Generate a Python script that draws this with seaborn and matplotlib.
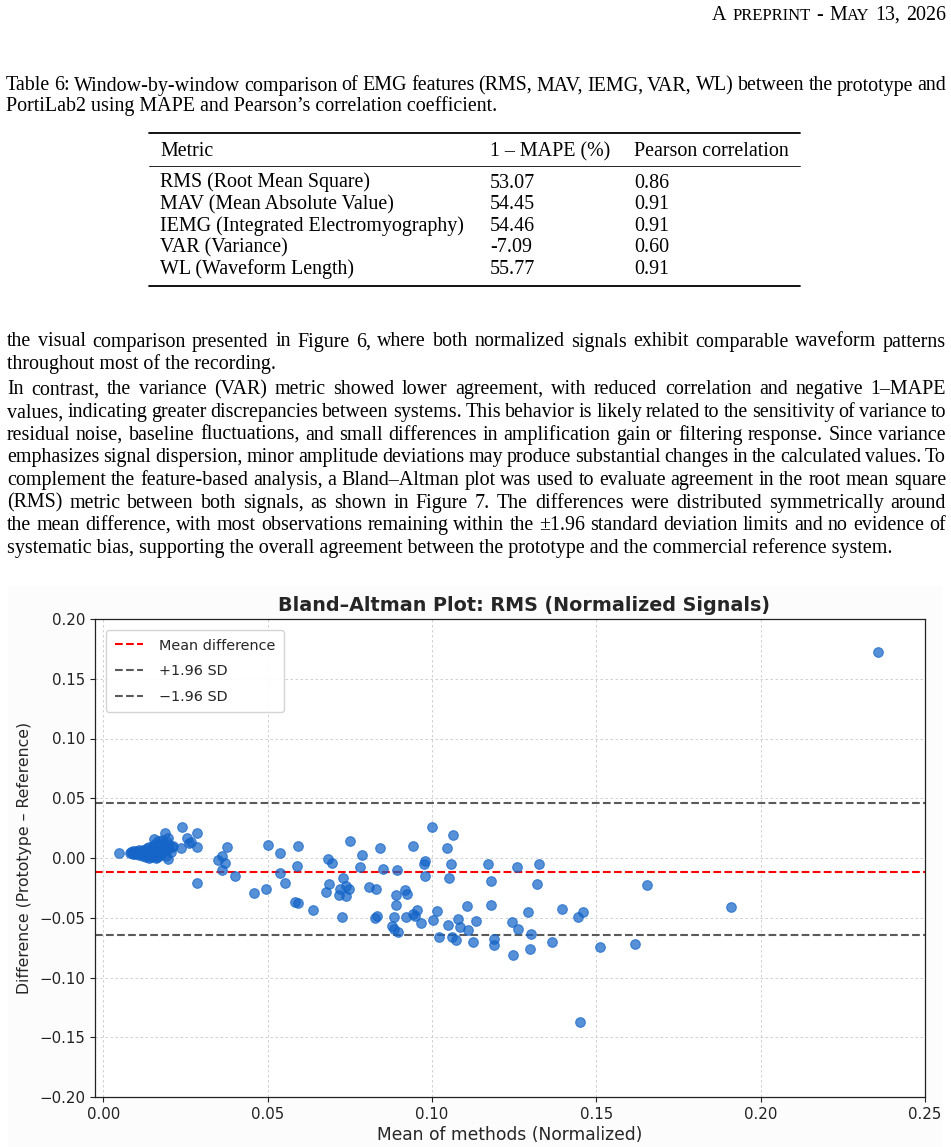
import numpy as np
import pandas as pd
import matplotlib
matplotlib.use("Agg")
import matplotlib.pyplot as plt
import seaborn as sns
from matplotlib.lines import Line2D
from matplotlib.patches import Rectangle

W, H = 951, 1147

# ---------------- data ----------------
cluster_x = [0.0080, 0.0085, 0.0090, 0.0092, 0.0095, 0.0098, 0.0100, 0.0102, 0.0105, 0.0108,
             0.0110, 0.0112, 0.0115, 0.0118, 0.0120, 0.0122, 0.0125, 0.0128, 0.0130, 0.0132,
             0.0135, 0.0138, 0.0140, 0.0142, 0.0145, 0.0148, 0.0150, 0.0152, 0.0155, 0.0158,
             0.0160, 0.0162, 0.0165, 0.0168, 0.0170, 0.0172, 0.0175, 0.0178, 0.0180, 0.0182,
             0.0185, 0.0188, 0.0190, 0.0195, 0.0198, 0.0200, 0.0205, 0.0210, 0.0140, 0.0160,
             0.0120, 0.0100, 0.0170, 0.0150, 0.0130]
cluster_y = [0.0040, 0.0050, 0.0035, 0.0055, 0.0045, 0.0030, 0.0060, 0.0040, 0.0050, 0.0025,
             0.0065, 0.0045, 0.0030, 0.0055, 0.0015, 0.0070, 0.0040, 0.0060, 0.0010, 0.0080,
             0.0050, 0.0025, 0.0090, 0.0065, 0.0005, 0.0045, 0.0100, 0.0075, 0.0020, 0.0120,
             0.0055, 0.0090, 0.0005, 0.0140, 0.0070, 0.0110, 0.0030, 0.0150, 0.0085, 0.0125,
             0.0060, 0.0100, 0.0015, 0.0135, 0.0075, 0.0110, 0.0050, 0.0090, 0.0000, 0.0000,
             0.0050, 0.0045, 0.0020, 0.0060, 0.0035]

spread_x = [0.0047, 0.0241, 0.0285, 0.0189, 0.0254, 0.0267, 0.0260, 0.0211, 0.0238, 0.0284,
            0.0196, 0.0196, 0.0155, 0.0376, 0.0362, 0.0349, 0.0371, 0.0361, 0.0401, 0.0285,
            0.0459, 0.0495, 0.0501, 0.0539, 0.0593, 0.0589, 0.0539, 0.0553, 0.0582, 0.0594,
            0.0638, 0.0752, 0.0685, 0.0695, 0.0730, 0.0688, 0.0678, 0.0719, 0.0739, 0.0747,
            0.0717, 0.0739, 0.0727, 0.0786, 0.0782, 0.0809, 0.0831, 0.0841, 0.0850, 0.0893,
            0.0827, 0.0833, 0.0892, 0.0917, 0.0924, 0.0892, 0.0885, 0.0878, 0.0884, 0.0898,
            0.0920, 0.0942, 0.0954, 0.0949, 0.0967, 0.0941, 0.0999, 0.0980, 0.0976, 0.0978,
            0.1004, 0.1016, 0.1023, 0.1047, 0.1064, 0.1058, 0.1052, 0.1050, 0.1060, 0.1073,
            0.1078, 0.1086, 0.1106, 0.1111, 0.1170, 0.1180, 0.1258, 0.1325, 0.1321, 0.1654,
            0.1135, 0.1124, 0.1180, 0.1188, 0.1189, 0.1243, 0.1261, 0.1248, 0.1293, 0.1300,
            0.1299, 0.1364, 0.1397, 0.1445, 0.1460, 0.1450, 0.1510, 0.1617, 0.1911, 0.2358]
spread_y = [0.0040, 0.0260, 0.0210, 0.0210, 0.0170, 0.0130, 0.0125, 0.0098, 0.0084, 0.0090,
            0.0166, -0.0006, 0.0155, 0.0095, 0.0020, -0.0020, -0.0043, -0.0103, -0.0149, -0.0206,
            -0.0296, -0.0258, 0.0106, 0.0041, 0.0104, -0.0071, -0.0122, -0.0206, -0.0370, -0.0380,
            -0.0437, 0.0139, -0.0011, -0.0043, -0.0168, -0.0217, -0.0285, -0.0258, -0.0231, -0.0258,
            -0.0310, -0.0320, -0.0492, 0.0024, -0.0076, -0.0245, -0.0263, 0.0087, -0.0090, -0.0098,
            -0.0500, -0.0489, -0.0310, -0.0267, -0.0305, -0.0390, -0.0492, -0.0568, -0.0590, -0.0623,
            -0.0492, -0.0468, -0.0435, -0.0484, -0.0540, 0.0104, 0.0260, -0.0027, -0.0054, -0.0147,
            -0.0520, -0.0443, -0.0657, 0.0081, 0.0190, -0.0049, -0.0166, -0.0560, -0.0657, -0.0690,
            -0.0510, -0.0579, -0.0400, -0.0600, -0.0049, -0.0190, -0.0079, -0.0049, -0.0220, -0.0223,
            -0.0530, -0.0704, -0.0397, -0.0677, -0.0731, -0.0536, -0.0595, -0.0809, -0.0454, -0.0638,
            -0.0758, -0.0700, -0.0424, -0.0492, -0.0448, -0.1375, -0.0745, -0.0717, -0.0408, 0.1726]

mean_diff = -0.0118
upper_loa = 0.0459
lower_loa = -0.0648

x_ticks = [0.00, 0.05, 0.10, 0.15, 0.20, 0.25]
y_ticks = [-0.20, -0.15, -0.10, -0.05, 0.00, 0.05, 0.10, 0.15, 0.20]

table_metrics = ["RMS (Root Mean Square)", "MAV (Mean Absolute Value)",
                 "IEMG (Integrated Electromyography)", "VAR (Variance)", "WL (Waveform Length)"]
table_mape = [53.07, 54.45, 54.46, -7.09, 55.77]
table_pearson = [0.86, 0.91, 0.91, 0.60, 0.91]
table_headers = ["Metric", "1 – MAPE (%)", "Pearson correlation"]

caption_lines = [
    "Table 6: Window-by-window comparison of EMG features (RMS, MAV, IEMG, VAR, WL) between the prototype and",
    "PortiLab2 using MAPE and Pearson’s correlation coefficient.",
]
para1_lines = [
    "the visual comparison presented in Figure 6, where both normalized signals exhibit comparable waveform patterns",
    "throughout most of the recording.",
]
para2_lines = [
    "In contrast, the variance (VAR) metric showed lower agreement, with reduced correlation and negative 1–MAPE",
    "values, indicating greater discrepancies between systems. This behavior is likely related to the sensitivity of variance to",
    "residual noise, baseline fluctuations, and small differences in amplification gain or filtering response. Since variance",
    "emphasizes signal dispersion, minor amplitude deviations may produce substantial changes in the calculated values. To",
    "complement the feature-based analysis, a Bland–Altman plot was used to evaluate agreement in the root mean square",
    "(RMS) metric between both signals, as shown in Figure 7.  The differences were distributed symmetrically around",
    "the mean difference, with most observations remaining within the ±1.96 standard deviation limits and no evidence of",
    "systematic bias, supporting the overall agreement between the prototype and the commercial reference system.",
]

# ---------------- setup ----------------
sns.set_style("ticks")
plt.rcParams['font.family'] = ['DejaVu Sans']

fig = plt.figure(figsize=(W / 100, H / 100), dpi=100)
fig.patch.set_facecolor("white")
renderer = fig.canvas.get_renderer()


def fx(x):
    return x / W


def fy(y):
    return 1 - y / H


PAGE = dict(fontsize=14.4, family="Liberation Serif", color="black")
SMALL = dict(fontsize=12.0, family="Liberation Serif", color="black")


def text_width(s, kw):
    t = fig.text(0, 0, s, **kw)
    w = t.get_window_extent(renderer).width
    t.remove()
    return w


def put_line(s, x0, x1, y, justify, kw=PAGE):
    if not justify:
        fig.text(fx(x0), fy(y), s, ha="left", va="baseline", **kw)
        return
    words = s.split()
    widths = [text_width(w, kw) for w in words]
    gap = (x1 - x0 - sum(widths)) / (len(words) - 1)
    x = x0
    for w, wd in zip(words, widths):
        fig.text(fx(x), fy(y), w, ha="left", va="baseline", **kw)
        x += wd + gap


LEFT, RIGHT = 7, 946

# header (small caps)
segs = [("A", PAGE), (" ", PAGE), ("PREPRINT", SMALL), (" ", PAGE), ("-", PAGE), (" ", PAGE),
        ("M", PAGE), ("AY", SMALL), (" ", PAGE), ("13,", PAGE), (" ", PAGE), ("2026", PAGE)]
space_w = 0.29 * 14.4 * 100 / 72
seg_w = [space_w if s == " " else text_width(s, k) for s, k in segs]
x = RIGHT - sum(seg_w)
for (s, k), wd in zip(segs, seg_w):
    if s != " ":
        fig.text(fx(x), fy(20), s, ha="left", va="baseline", **k)
    x += wd

# caption
put_line(caption_lines[0], LEFT - 1, RIGHT, 90.5, True)
put_line(caption_lines[1], LEFT - 1, RIGHT, 111.5, False)

# table
TX0, TX1 = 149, 800
fig.add_artist(Line2D([fx(TX0), fx(TX1)], [fy(133), fy(133)], lw=1.3, color="black"))
fig.add_artist(Line2D([fx(TX0), fx(TX1)], [fy(166), fy(166)], lw=0.6, color="black"))
fig.add_artist(Line2D([fx(TX0), fx(TX1)], [fy(286), fy(286)], lw=1.3, color="black"))
col_x = [160, 490, 634]
for cx, h in zip(col_x, table_headers):
    fig.text(fx(cx), fy(156), h, ha="left", va="baseline", **PAGE)
for i, (m, v, p) in enumerate(zip(table_metrics, table_mape, table_pearson)):
    yb = 187.5 + 21.6 * i
    fig.text(fx(col_x[0]), fy(yb), m, ha="left", va="baseline", **PAGE)
    fig.text(fx(col_x[1]), fy(yb), f"{v:.2f}", ha="left", va="baseline", **PAGE)
    fig.text(fx(col_x[2]), fy(yb), f"{p:.2f}", ha="left", va="baseline", **PAGE)

# paragraphs
put_line(para1_lines[0], LEFT, RIGHT, 346.5, True)
put_line(para1_lines[1], LEFT, RIGHT, 369, False)
for i, ln in enumerate(para2_lines):
    put_line(ln, LEFT, RIGHT, 394.5 + 22.65 * i, i < len(para2_lines) - 1)

# faint background of embedded chart image
fig.add_artist(Rectangle((fx(8), 0), fx(943) - fx(8), fy(586), transform=fig.transFigure,
                         facecolor="#fcfcfc", edgecolor="none", zorder=-5))

# ---------------- chart ----------------
ax = fig.add_axes([fx(95), fy(1097), (925 - 95) / W, (1097 - 619) / H])
ax.set_facecolor("white")

df = pd.DataFrame({
    "mean": cluster_x + spread_x,
    "diff": cluster_y + spread_y,
})

ax.grid(True, linestyle=(0, (3, 3)), linewidth=0.6, color="#c9c9c9", zorder=0)
ax.set_axisbelow(True)

pt_color = "#1565C8"
sns.scatterplot(data=df, x="mean", y="diff", ax=ax, s=48, color=pt_color,
                edgecolor=pt_color, linewidth=0.8, alpha=0.72, zorder=3, legend=False)

ax.axhline(mean_diff, color="red", linestyle="--", linewidth=1.5, label="Mean difference", zorder=2)
ax.axhline(upper_loa, color="#5a5a5a", linestyle="--", linewidth=1.5, label="+1.96 SD", zorder=2)
ax.axhline(lower_loa, color="#5a5a5a", linestyle="--", linewidth=1.5, label="−1.96 SD", zorder=2)


def fmt(v, pos=None):
    v = round(v, 4) + 0.0
    s = f"{v:.2f}"
    if s == "-0.00":
        s = "0.00"
    return s.replace("-", "−")


ax.set_xlim(-0.0025, 0.25)
ax.set_ylim(-0.20, 0.20)
ax.set_xticks(x_ticks)
ax.set_yticks(y_ticks)
ax.xaxis.set_major_formatter(matplotlib.ticker.FuncFormatter(fmt))
ax.yaxis.set_major_formatter(matplotlib.ticker.FuncFormatter(fmt))
ax.tick_params(labelsize=10.8, length=3.5, width=0.8, colors="#222222")
for sp in ax.spines.values():
    sp.set_color("#222222")
    sp.set_linewidth(0.9)

ax.set_title("Bland–Altman Plot: RMS (Normalized Signals)", fontsize=13.8, fontweight="bold", pad=6,
             x=0.517)
ax.set_xlabel("Mean of methods (Normalized)", fontsize=12.3, labelpad=3)
ax.set_ylabel("Difference (Prototype – Reference)", fontsize=11.3, labelpad=5)

leg = ax.legend(loc="upper left", fontsize=10.4, frameon=True, fancybox=True,
                framealpha=0.9, edgecolor="#d0d0d0", borderaxespad=0.75,
                labelspacing=0.8, handletextpad=1.1, borderpad=0.6)

fig.savefig("out.png", dpi=100, facecolor="white")
